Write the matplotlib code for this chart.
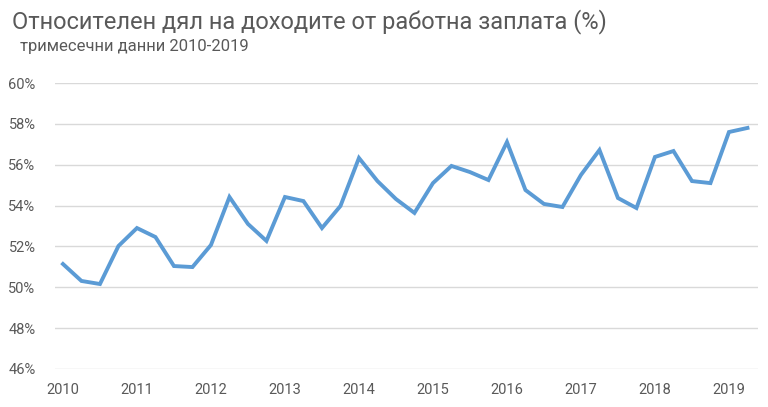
import matplotlib.pyplot as plt
from matplotlib.ticker import FuncFormatter

years = [2010, 2011, 2012, 2013, 2014, 2015, 2016, 2017, 2018, 2019]
wage_share = [
    51.14, 50.31, 50.16, 52.02,
    52.90, 52.46, 51.04, 50.99,
    52.07, 54.42, 53.10, 52.27,
    54.42, 54.22, 52.90, 53.98,
    56.33, 55.20, 54.32, 53.64,
    55.10, 55.94, 55.64, 55.25,
    57.11, 54.76, 54.08, 53.93,
    55.50, 56.72, 54.37, 53.88,
    56.38, 56.67, 55.20, 55.10,
    57.60, 57.80,
]

title = "Относителен дял на доходите от работна заплата (%)"
subtitle = "тримесечни данни 2010-2019"

plt.rcParams["font.family"] = ["Roboto", "DejaVu Sans"]

W, H = 768, 407
fig = plt.figure(figsize=(W / 100, H / 100), dpi=100)
ax = fig.add_axes([55 / W, 1 - 369 / H, (758 - 55) / W, (369 - 83) / H])

quarters = list(range(len(wage_share)))
ax.plot(quarters, wage_share, color="#5B9BD5", linewidth=2.8,
        solid_joinstyle="miter", zorder=3)

ax.set_xlim(-0.43, 37.57)
ax.set_ylim(46, 60)
ax.set_yticks(range(46, 61, 2))
ax.yaxis.set_major_formatter(FuncFormatter(lambda v, _: f"{v:.0f}%"))
ax.set_xticks([4 * i for i in range(len(years))])
ax.set_xticklabels([str(y) for y in years])

ax.grid(axis="y", color="#d9d9d9", linewidth=1)
ax.set_axisbelow(True)
for s in ax.spines.values():
    s.set_visible(False)
ax.tick_params(length=0, colors="#595959", labelsize=10.5)
ax.tick_params(axis="y", pad=14)
ax.tick_params(axis="x", pad=10)

fig.text(12 / W, 1 - 9 / H, title, fontsize=17, color="#595959",
         va="top", ha="left")
fig.text(20 / W, 1 - 39 / H, subtitle, fontsize=12, color="#595959",
         va="top", ha="left")

fig.savefig("out.png", dpi=100)
